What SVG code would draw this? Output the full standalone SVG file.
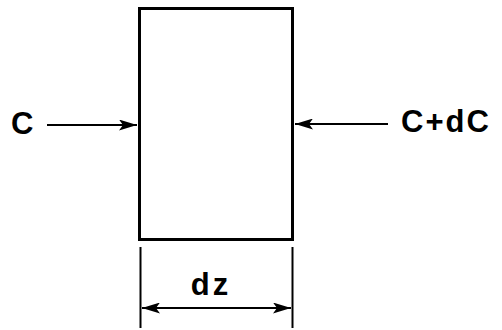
<svg xmlns="http://www.w3.org/2000/svg" width="502" height="330" viewBox="0 0 502 330">
<defs>
<marker id="ah" viewBox="0 0 18 11" refX="18" refY="5.5" markerWidth="18" markerHeight="11" markerUnits="userSpaceOnUse" orient="auto-start-reverse">
<path d="M0,0 L18,5.5 L0,11 L4,5.5 Z" fill="#000"/>
</marker>
</defs>
<style>
.t{font-family:"Liberation Sans",Arial,sans-serif;font-weight:bold;font-size:31px;fill:#000}
.ln{stroke:#000;stroke-width:2;fill:none}
</style>
<rect width="502" height="330" fill="#fff"/>
<g id="element">
<rect x="139.5" y="8.5" width="153" height="231" fill="none" stroke="#000" stroke-width="3"/>
</g>
<g id="connectors">
<line class="ln" x1="47" y1="125" x2="137" y2="125" marker-end="url(#ah)"/>
<line class="ln" x1="388" y1="124" x2="295" y2="124" marker-end="url(#ah)"/>
<line class="ln" x1="140.5" y1="247" x2="140.5" y2="328"/>
<line class="ln" x1="292.5" y1="247" x2="292.5" y2="328"/>
<line class="ln" x1="142" y1="308" x2="291" y2="308" marker-start="url(#ah)" marker-end="url(#ah)"/>
</g>
<g id="label-c">
<text class="t" x="11" y="134">C</text>
</g>
<g id="label-cdc">
<text class="t" x="401" y="132" letter-spacing="2">C+dC</text>
</g>
<g id="label-dz">
<text class="t" x="211" y="295" text-anchor="middle" letter-spacing="3">dz</text>
</g>
</svg>
